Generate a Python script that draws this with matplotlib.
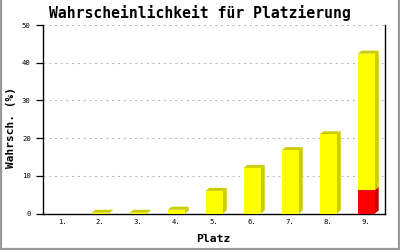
import matplotlib
matplotlib.use("Agg")
import matplotlib.pyplot as plt
from matplotlib.patches import Polygon
from matplotlib.lines import Line2D

# -----------------------------
# Data
# -----------------------------
places = ["1.", "2.", "3.", "4.", "5.", "6.", "7.", "8.", "9."]
total_pct = [0.0, 0.2, 0.2, 1.0, 6.0, 12.1, 16.8, 21.0, 42.4]
red_pct = [0.0, 0.0, 0.0, 0.0, 0.0, 0.0, 0.0, 0.0, 6.2]
y_ticks = [0, 10, 20, 30, 40, 50]

title = "Wahrscheinlichkeit für Platzierung"
x_label = "Platz"
y_label = "Wahrsch. (%)"

# -----------------------------
# Style
# -----------------------------
mono = ["DejaVu Sans Mono"]
bar_w = 0.45
depth_x = 0.105   # 3d depth in data units (~4 px)
depth_y = 0.8     # ~3 px
front = {"yellow": "#ffff00", "red": "#ff0000"}
shade = {"yellow": "#cccc00", "red": "#cc0000"}


def bar3d(ax, x, bottom, top, color, z):
    if top <= bottom:
        return
    x0, x1 = x - bar_w / 2, x + bar_w / 2
    side = [(x1, bottom), (x1 + depth_x, bottom + depth_y),
            (x1 + depth_x, top + depth_y), (x1, top)]
    cap = [(x0, top), (x0 + depth_x, top + depth_y),
           (x1 + depth_x, top + depth_y), (x1, top)]
    ax.add_patch(Polygon(side, closed=True, fc=shade[color], ec="none", zorder=z))
    ax.add_patch(Polygon(cap, closed=True, fc=shade[color], ec="none", zorder=z))
    ax.bar(x, top - bottom, bottom=bottom, width=bar_w, color=front[color],
           edgecolor="none", zorder=z + 0.5)


fig = plt.figure(figsize=(4, 2.5), dpi=100)
fig.patch.set_facecolor("white")
ax = fig.add_axes([0.108, 0.146, 0.855, 0.754])

xs = list(range(1, len(places) + 1))
for i, x in enumerate(xs):
    r = red_pct[i]
    t = total_pct[i]
    bar3d(ax, x, 0, r, "red", 3)
    bar3d(ax, x, r, t, "yellow", 4)

ax.set_xlim(0.5, 9.5)
ax.set_ylim(0, 50)
ax.set_xticks(xs)
ax.set_xticklabels(places, family=mono, fontsize=5.2)
ax.set_yticks(y_ticks)
ax.set_yticklabels([str(v) for v in y_ticks], family=mono, fontsize=5.2)
ax.tick_params(axis="x", length=0, pad=4)
ax.tick_params(axis="y", length=5, width=0.9, pad=4)

ax.spines["top"].set_visible(False)
for s in ["left", "bottom", "right"]:
    ax.spines[s].set_linewidth(1.0)
    ax.spines[s].set_color("black")

for v in y_ticks[1:]:
    ax.axhline(v, color="#b8b8b8", lw=0.75, ls=(0, (2, 3.5)), zorder=1)

fig.text(0.5, 0.947, title, ha="center", va="center",
         family=mono, fontweight="bold", fontsize=10.6)
fig.text(0.533, 0.042, x_label, ha="center", va="center",
         family=mono, fontweight="bold", fontsize=8.2)
fig.text(0.028, 0.492, y_label, ha="center", va="center", rotation=90,
         family=mono, fontweight="bold", fontsize=8.0)

# gray frame round the picture (left, right, bottom)
for xy in [([0.0025, 0.0025], [0, 1]), ([0.9965, 0.9965], [0, 1]),
           ([0, 1], [0.006, 0.006])]:
    fig.add_artist(Line2D(xy[0], xy[1], transform=fig.transFigure,
                          color="#999999", lw=1.6))

fig.savefig("out.png", dpi=100, facecolor="white")
